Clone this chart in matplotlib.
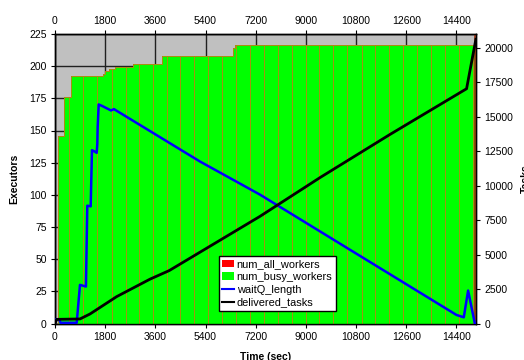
import matplotlib
matplotlib.use("Agg")
import matplotlib.pyplot as plt
import numpy as np
from matplotlib.patches import Patch
from matplotlib.lines import Line2D

plt.rcParams['font.family'] = ['Liberation Sans', 'DejaVu Sans']
plt.rcParams['font.size'] = 7.5

# executors (left axis)
t_end = 15060
busy_times = [108, 334, 574, 1709, 1792, 1948, 2151, 2785, 3849, 6393, 6460]
busy_workers = [146, 176, 192, 194, 196, 198, 199.5, 202, 208, 214, 216.5]
all_times = [96, 108, 334, 574, 1709, 1792, 1948, 2151, 2785, 3849, 6393, 6460]
all_workers = [92, 146, 176, 192, 194, 196, 198, 199.5, 202, 208, 214, 216.5]
sample_times = [513, 1015, 1517, 2055, 2535, 3012, 3503, 4005, 4482, 4995, 5497,
                5999, 6479, 6992, 7500, 8007, 8487, 9000, 9477, 9979, 10481, 10997,
                11474, 11987, 12489, 12991, 13471, 13984, 14486, 14977]

# tasks (right axis)
wait_t = [0, 150, 200, 778, 896, 1110, 1158, 1280, 1326, 1400, 1495, 1518, 1530,
          1567, 1700, 2008, 2115, 5200, 7350, 10935, 14400, 14662, 14817, 15058]
wait_q = [300, 300, 50, 50, 2800, 2680, 8545, 8500, 12570, 12500, 12380, 13030, 14220,
          15890, 15770, 15455, 15550, 11750, 9350, 4910, 620, 450, 2390, 0]
del_t = [0, 60, 896, 1255, 2212, 3406, 4098, 7350, 9502, 12012, 14762, 15096]
del_v = [0, 300, 330, 690, 1950, 3215, 3840, 7770, 10580, 13710, 17030, 20620]

xticks = [0, 1800, 3600, 5400, 7200, 9000, 10800, 12600, 14400]

fig = plt.figure(figsize=(5.24, 3.6), dpi=100)
ax = fig.add_axes([55 / 524, 1 - 323.5 / 360, 421 / 524, 289.5 / 360])
ax.set_facecolor('#c0c0c0')

# red and green step areas
at = all_times + [t_end]
av = all_workers + [all_workers[-1]]
ax.fill_between(at, av, step='post', color='#ff0000', lw=0, zorder=2)
bt = busy_times + [t_end]
bv = busy_workers + [busy_workers[-1]]
ax.fill_between(bt, bv, step='post', facecolor='#00ff00', edgecolor='#a89010',
                lw=0.7, zorder=3)
idx = np.searchsorted(busy_times, sample_times, side='right') - 1
levels = np.array(busy_workers)[idx]
ax.vlines(sample_times, 0, levels, color='#a89010', lw=0.7, zorder=4)
ax.axvline(t_end, color='#a03010', lw=1.2, zorder=4)

ax.set_xlim(0, 15100)
ax.set_ylim(0, 225)
ax.set_yticks(np.arange(0, 226, 25))
ax.set_xticks(xticks)
ax.grid(True, color='#202020', lw=1.0)
ax.set_axisbelow(True)
ax.tick_params(top=True, labeltop=True, direction='out', length=3, width=0.8, pad=3)
ax.set_xlabel('Time (sec)', fontweight='bold')
ax.xaxis.set_label_coords(0.5, -0.097)
ax.set_ylabel('Executors', fontweight='bold')
ax.yaxis.set_label_coords(-0.085, 0.5)

ax2 = ax.twinx()
ax2.plot(wait_t, wait_q, color='#0000ff', lw=1.8, zorder=5)
ax2.plot(del_t, del_v, color='#000000', lw=2.0, zorder=6)
ax2.set_ylim(0, 21000)
ax2.set_yticks(np.arange(0, 20001, 2500))
ax2.tick_params(direction='out', length=3, width=0.8, pad=3)
ax2.set_ylabel('Tasks', fontweight='bold')
ax2.yaxis.set_label_coords(1.107, 0.5)

for a in (ax, ax2):
    for s in a.spines.values():
        s.set_linewidth(1.0)

handles = [Patch(facecolor='#ff0000', edgecolor='none'),
           Patch(facecolor='#00ff00', edgecolor='none'),
           Line2D([], [], color='#0000ff', lw=1.5),
           Line2D([], [], color='#000000', lw=1.5)]
labels = ['num_all_workers', 'num_busy_workers', 'waitQ_length', 'delivered_tasks']
leg = ax2.legend(handles, labels, loc='upper left',
                 bbox_to_anchor=((219 - 55) / 421, (323.5 - 256) / 289.5),
                 fontsize=7.9, frameon=True, fancybox=False, framealpha=1,
                 edgecolor='black', borderpad=0.3, labelspacing=0.25,
                 handlelength=1.1, handletextpad=0.2, borderaxespad=0)
leg.get_frame().set_linewidth(1.0)
leg.set_zorder(10)

fig.savefig('out.png', dpi=100)
